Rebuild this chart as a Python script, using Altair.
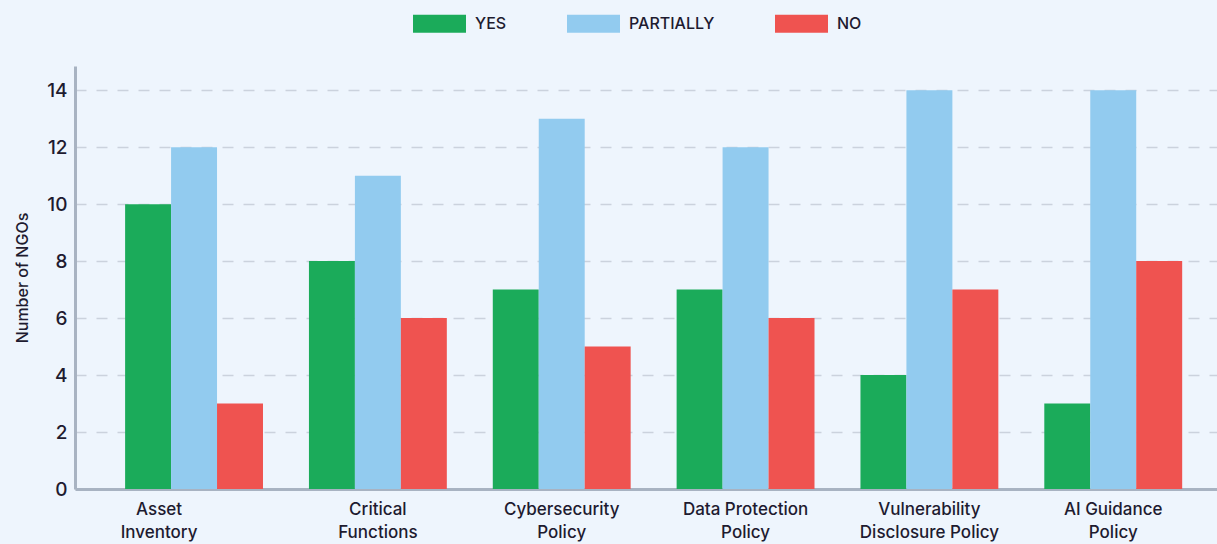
import altair as alt
import pandas as pd

# Survey results: how many NGOs have each policy / practice in place
categories = [
    "Asset Inventory",
    "Critical Functions",
    "Cybersecurity Policy",
    "Data Protection Policy",
    "Vulnerability Disclosure Policy",
    "AI Guidance Policy",
]
label_lines = [
    ["Asset", "Inventory"],
    ["Critical", "Functions"],
    ["Cybersecurity", "Policy"],
    ["Data Protection", "Policy"],
    ["Vulnerability", "Disclosure Policy"],
    ["AI Guidance", "Policy"],
]
responses = ["YES", "PARTIALLY", "NO"]
yes_counts = [10, 8, 7, 7, 4, 3]
partially_counts = [12, 11, 13, 12, 14, 14]
no_counts = [3, 6, 5, 6, 7, 8]
colors = ["#1bab5a", "#92cbef", "#ef5350"]

rows = []
for i, cat in enumerate(categories):
    for resp, vals in zip(responses, [yes_counts, partially_counts, no_counts]):
        rows.append({"category": cat, "response": resp, "count": vals[i]})
df = pd.DataFrame(rows)

# two-line axis labels
label_expr = ""
for cat, lines in zip(categories, label_lines):
    label_expr += f"datum.value == '{cat}' ? {lines!r} : "
label_expr += "datum.value"

FONT = "Inter"
TEXT = "#1e1b30"

bars = alt.Chart(df).mark_bar().encode(
    x=alt.X(
        "category:N",
        sort=categories,
        scale=alt.Scale(paddingInner=0.25, paddingOuter=0.231, align=0.59),
        axis=alt.Axis(
            title=None,
            labelAngle=0,
            labelExpr=label_expr,
            labelFontSize=17,
            labelFontWeight=500,
            labelLineHeight=23,
            labelPadding=12,
            labelColor=TEXT,
            labelFont=FONT,
            labelOffset={
                "condition": {"test": "datum.value == 'Asset Inventory'", "value": -35},
                "value": 0,
            },
            tickSize=0,
            domainColor="#a8b3c2",
            domainWidth=3,
            grid=False,
        ),
    ),
    xOffset=alt.XOffset("response:N", sort=responses, scale=alt.Scale(paddingInner=0, paddingOuter=0)),
    y=alt.Y(
        "count:Q",
        scale=alt.Scale(domain=[0, 14.85], nice=False),
        axis=alt.Axis(
            title="Number of NGOs",
            values=[0, 2, 4, 6, 8, 10, 12, 14],
            titleFontSize=16,
            titleFontWeight=500,
            titleColor=TEXT,
            titleFont=FONT,
            titlePadding=16,
            labelFontSize=19,
            labelFontWeight=500,
            labelColor=TEXT,
            labelFont=FONT,
            labelPadding=8,
            tickSize=0,
            domainColor="#a8b3c2",
            domainWidth=3,
            gridColor="#cbd2dd",
            gridDash=[11, 10],
            gridWidth=1.3,
        ),
    ),
    color=alt.Color(
        "response:N",
        sort=responses,
        scale=alt.Scale(domain=responses, range=colors),
        legend=alt.Legend(
            title=None,
            orient="none",
            direction="horizontal",
            legendX=338,
            legendY=-69,
            symbolType="M-1,-0.34H1V0.34H-1Z",
            symbolSize=2809,
            symbolStrokeWidth=0,
            symbolOpacity=1,
            labelFontSize=16,
            labelFontWeight=500,
            labelFont=FONT,
            labelColor=TEXT,
            labelOffset=9,
            columnPadding=60,
        ),
    ),
)

chart = bars.properties(
    width=1142,
    height=423,
    background="#eef5fd",
    padding={"left": 75, "top": 66, "right": 0, "bottom": 55},
    autosize=alt.AutoSizeParams(type="none"),
).configure_view(stroke=None)

chart.save("out.html", embed_options={"renderer": "svg", "actions": False})
